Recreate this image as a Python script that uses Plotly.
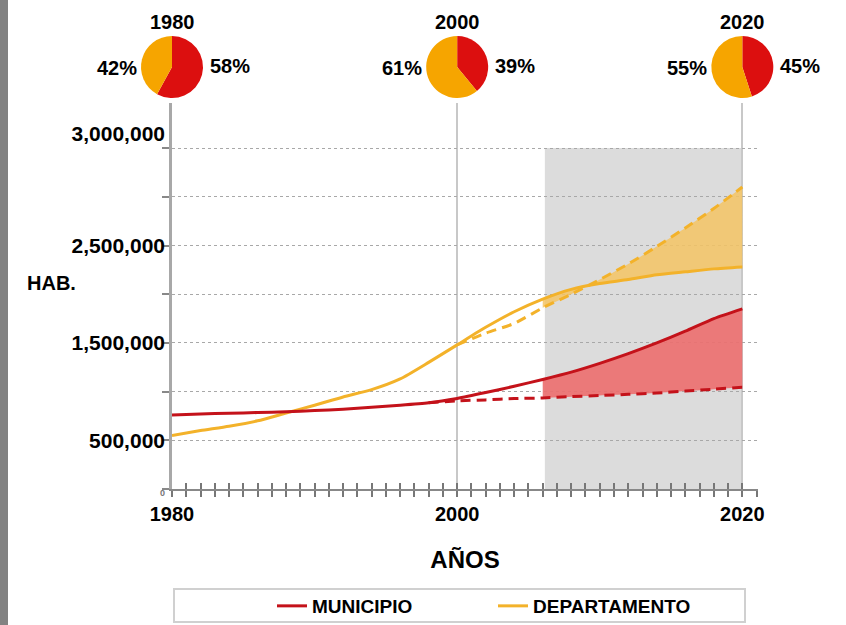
import plotly.graph_objects as go

# ---------------- data ----------------
years = [1980, 1982, 1984, 1986, 1988, 1990, 1992, 1994, 1996, 1998, 2000,
         2002, 2004, 2006, 2008, 2010, 2012, 2014, 2016, 2018, 2020]
municipio = [760000, 770000, 778000, 785000, 793000, 805000, 820000, 840000, 860000, 885000, 930000,
             990000, 1055000, 1125000, 1200000, 1290000, 1390000, 1500000, 1620000, 1750000, 1850000]
departamento = [550000, 600000, 645000, 700000, 780000, 860000, 945000, 1020000, 1130000, 1300000, 1480000,
                1660000, 1820000, 1950000, 2050000, 2110000, 2150000, 2200000, 2230000, 2260000, 2280000]

mun_trend_years = [1998, 2000, 2002, 2004, 2006, 2008, 2010, 2012, 2014, 2016, 2018, 2020]
mun_trend = [885000, 905000, 915000, 928000, 935000, 948000, 960000, 972000, 985000, 1005000, 1025000, 1045000]

dep_trend_years = [2000, 2002, 2004, 2006, 2008, 2010, 2012, 2014, 2016, 2018, 2020]
dep_trend = [1480000, 1600000, 1700000, 1860000, 2000000, 2150000, 2310000, 2490000, 2680000, 2880000, 3100000]

projection_start = 2006.15
projection_end = 2020
fill_from = 2006

pie_years = ["1980", "2000", "2020"]
pie_x = [1980, 2000, 2020]
mun_share = [58, 39, 45]
dep_share = [42, 61, 55]

x_tick_vals = [1980, 2000, 2020]
x_tick_text = ["1980", "2000", "2020"]
y_label_vals = [0, 500000, 1500000, 2500000, 3650000]
y_label_text = ["<span style='font-size:9px;color:#777'>0</span>", "500,000", "1,500,000", "2,500,000", "3,000,000"]
y_grid_vals = [0, 500000, 1000000, 1500000, 2000000, 2500000, 3000000, 3500000]

series_names = ["MUNICIPIO", "DEPARTAMENTO"]

# ---------------- style ----------------
RED = "#C4121A"
RED_FILL = "rgba(236,112,112,0.92)"
ORANGE = "#F3B22A"
ORANGE_FILL = "rgba(244,196,100,0.85)"
PIE_RED = "#DC0F0F"
PIE_ORANGE = "#F6A500"
FONT = "Liberation Sans, Arial, sans-serif"
SMOOTH = dict(shape="spline", smoothing=0.6)

W, H = 846, 625
PX_L, PX_R = 172, 758   # plot area in pixels
PX_B, PX_T = 489, 103
X_RANGE = [1980, 2021.1]
Y_RANGE = [0, 3963000]

def xpx(v):
    return PX_L + (v - X_RANGE[0]) / (X_RANGE[1] - X_RANGE[0]) * (PX_R - PX_L)

fig = go.Figure()

def sub(xs, ys, start):
    pairs = [(a, b) for a, b in zip(xs, ys) if a >= start]
    return [p[0] for p in pairs], [p[1] for p in pairs]

# fill regions (projection gap)
mx, my = sub(mun_trend_years, mun_trend, fill_from)
sx, sy = sub(years, municipio, fill_from)
fig.add_trace(go.Scatter(x=mx, y=my, mode="lines", line=dict(width=0, **SMOOTH), showlegend=False, hoverinfo="skip"))
fig.add_trace(go.Scatter(x=sx, y=sy, mode="lines", line=dict(width=0, **SMOOTH), fill="tonexty",
                         fillcolor=RED_FILL, showlegend=False, hoverinfo="skip"))
dx, dy = sub(dep_trend_years, dep_trend, fill_from)
sx2, sy2 = sub(years, departamento, fill_from)
fig.add_trace(go.Scatter(x=sx2, y=sy2, mode="lines", line=dict(width=0, **SMOOTH), showlegend=False, hoverinfo="skip"))
fig.add_trace(go.Scatter(x=dx, y=dy, mode="lines", line=dict(width=0, **SMOOTH), fill="tonexty",
                         fillcolor=ORANGE_FILL, showlegend=False, hoverinfo="skip"))

# dashed trends
fig.add_trace(go.Scatter(x=mun_trend_years, y=mun_trend, mode="lines",
                         line=dict(color=RED, width=3, dash="10px,6px", **SMOOTH), showlegend=False))
fig.add_trace(go.Scatter(x=dep_trend_years, y=dep_trend, mode="lines",
                         line=dict(color=ORANGE, width=3, dash="10px,6px", **SMOOTH), showlegend=False))
# solid lines
fig.add_trace(go.Scatter(x=years, y=departamento, mode="lines", name=series_names[1],
                         line=dict(color=ORANGE, width=3, **SMOOTH)))
fig.add_trace(go.Scatter(x=years, y=municipio, mode="lines", name=series_names[0],
                         line=dict(color=RED, width=3, **SMOOTH)))

# dummy trace to activate overlay axes (labels / crossing ticks)
fig.add_trace(go.Scatter(x=[years[0]], y=[municipio[0]], mode="markers", marker=dict(opacity=0),
                         xaxis="x2", yaxis="y2", showlegend=False, hoverinfo="skip"))

# pies
pie_r = 31
pie_cy = 67
for i, yr in enumerate(pie_years):
    cx = xpx(pie_x[i])
    fig.add_trace(go.Pie(
        values=[mun_share[i], dep_share[i]], labels=series_names,
        marker=dict(colors=[PIE_RED, PIE_ORANGE], line=dict(width=0)),
        direction="clockwise", sort=False, rotation=0, textinfo="none",
        hoverinfo="label+percent", showlegend=False,
        domain=dict(x=[(cx - pie_r) / W, (cx + pie_r) / W],
                    y=[(H - pie_cy - pie_r) / H, (H - pie_cy + pie_r) / H])))
    fig.add_annotation(x=cx / W, y=(H - 22) / H, xref="paper", yref="paper", text=yr,
                       showarrow=False, xanchor="center", yanchor="middle")
    fig.add_annotation(x=(cx - 33) / W, y=(H - 68) / H, xref="paper", yref="paper",
                       text=f"{dep_share[i]}%", showarrow=False, xanchor="right", yanchor="middle")
    fig.add_annotation(x=(cx + 36) / W, y=(H - 66) / H, xref="paper", yref="paper",
                       text=f"{mun_share[i]}%", showarrow=False, xanchor="left", yanchor="middle")

fig.add_annotation(x=25 / W, y=(H - 283) / H, xref="paper", yref="paper", text="HAB.",
                   showarrow=False, xanchor="left", yanchor="middle")

# shapes: projection shading, left band, legend box
fig.add_shape(type="rect", xref="x", yref="y", x0=projection_start, x1=projection_end,
              y0=0, y1=y_grid_vals[-1], fillcolor="#DCDCDC", line=dict(width=0), layer="below")
fig.add_shape(type="rect", xref="paper", yref="paper", x0=0, x1=8 / W, y0=0, y1=1,
              fillcolor="#828282", line=dict(width=0), layer="below")
fig.add_shape(type="rect", xref="paper", yref="paper", x0=174 / W, x1=745 / W,
              y0=(H - 622) / H, y1=(H - 589) / H, fillcolor="rgba(0,0,0,0)",
              line=dict(color="#D0D0D0", width=2))

xdom = [PX_L / W, PX_R / W]
ydom = [(H - PX_B) / H, (H - PX_T) / H]

fig.update_layout(
    width=W, height=H,
    margin=dict(l=0, r=0, t=0, b=0, pad=0, autoexpand=False),
    paper_bgcolor="white", plot_bgcolor="rgba(0,0,0,0)",
    font=dict(family=FONT, size=20, color="black", weight="bold"),
    xaxis=dict(domain=xdom, range=X_RANGE, tickvals=x_tick_vals, ticktext=x_tick_text,
               ticks="outside", ticklen=6, tickcolor="#777", tickwidth=1.5,
               minor=dict(dtick=1, tick0=1980, ticks="outside", ticklen=6, tickcolor="#777", tickwidth=1.5),
               showgrid=True, gridcolor="#C8C8C8", gridwidth=1.5,
               showline=True, linecolor="#888", linewidth=1.5, zeroline=False,
               title=dict(text="AÑOS", standoff=27), anchor="y", automargin=False),
    xaxis2=dict(domain=xdom, range=X_RANGE, overlaying="x", anchor="y2", side="bottom",
                tickvals=list(range(1980, 2021)), ticks="inside", ticklen=6, tickcolor="#777", tickwidth=1.5,
                showticklabels=False, showgrid=False, showline=False, zeroline=False, automargin=False),
    yaxis=dict(domain=ydom, range=Y_RANGE, tickvals=y_grid_vals, showticklabels=False,
               ticks="outside", ticklen=7, tickcolor="#888", tickwidth=1.5,
               showgrid=True, gridcolor="#A8A8A8", gridwidth=1.2, griddash="dot",
               showline=True, linecolor="#A8A8A8", linewidth=3, zeroline=False, anchor="x",
               automargin=False),
    yaxis2=dict(domain=ydom, range=Y_RANGE, overlaying="y", anchor="x2", side="left",
                tickvals=y_label_vals, ticktext=y_label_text, ticks="", ticklabelstandoff=6,
                showgrid=False, showline=False, zeroline=False, automargin=False,
                tickfont=dict(size=21)),
    legend=dict(orientation="h", x=272 / W, xanchor="left", y=(H - 606) / H, yanchor="middle",
                bgcolor="rgba(0,0,0,0)", borderwidth=0, traceorder="reversed",
                font=dict(size=19), entrywidth=176),
    showlegend=True,
)

fig.write_html("out.html", config={"displayModeBar": False},
               post_script="document.body.style.margin='0px';document.body.style.overflow='hidden';")
